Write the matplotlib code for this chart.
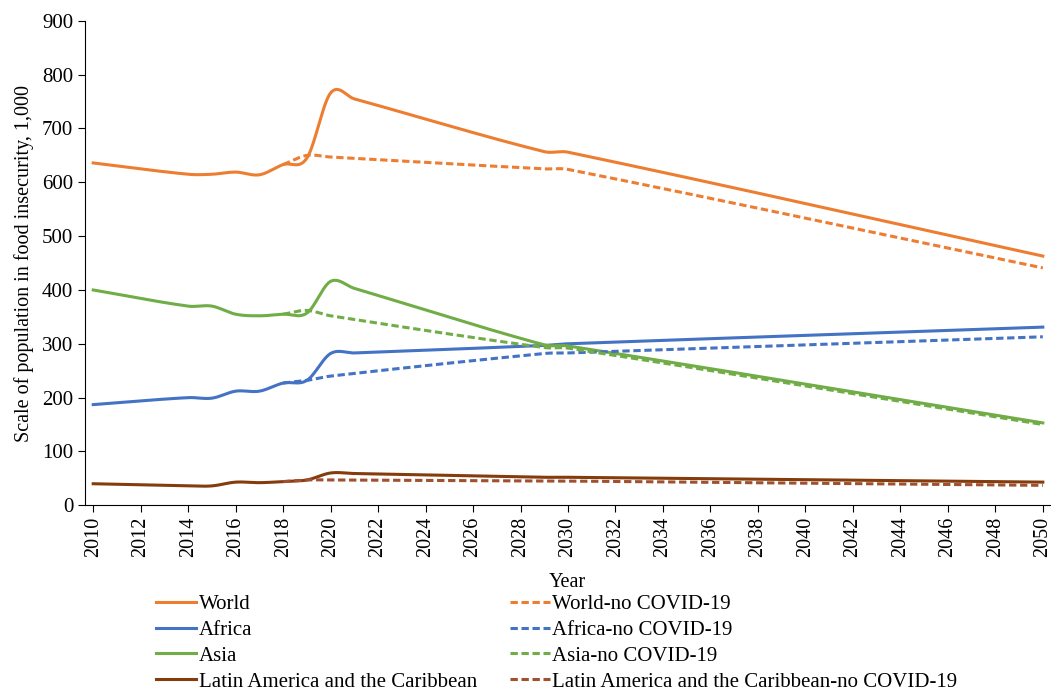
import numpy as np
import matplotlib
matplotlib.use('Agg')
import matplotlib.pyplot as plt

# Datos (miles de personas)
years = [2010, 2014, 2015, 2016, 2017, 2018, 2019, 2020, 2021, 2029, 2030, 2050]
years_nc = [2018, 2019, 2020, 2029, 2030, 2050]

world = [636, 615, 615, 619, 614, 633, 645, 766, 755, 657, 656, 463]
world_nc = [633, 650, 647, 625, 624, 441]
africa = [187, 200, 199, 212, 212, 227, 232, 282, 283, 297, 300, 331]
africa_nc = [227, 232, 240, 282, 283, 313]
asia = [400, 370, 370, 355, 352, 355, 357, 416, 403, 298, 296, 153]
asia_nc = [355, 362, 352, 293, 292, 150]
latam = [40, 36, 36, 43, 42, 44, 47, 60, 59, 52, 52, 43]
latam_nc = [44, 47, 47, 45, 45, 37]


def suavizar(x, y, n=40):
    # curva suavizada (Hermite cúbica), parecida a la línea suavizada de Excel
    x = np.asarray(x, float)
    y = np.asarray(y, float)
    m = np.zeros_like(y)
    for i in range(len(x)):
        a = max(i - 1, 0)
        b = min(i + 1, len(x) - 1)
        m[i] = (y[b] - y[a]) / (x[b] - x[a])
    xs, ys = [], []
    for i in range(len(x) - 1):
        h = x[i + 1] - x[i]
        t = np.linspace(0, 1, n)
        h00 = 2 * t ** 3 - 3 * t ** 2 + 1
        h10 = t ** 3 - 2 * t ** 2 + t
        h01 = -2 * t ** 3 + 3 * t ** 2
        h11 = t ** 3 - t ** 2
        xs.append(x[i] + t * h)
        ys.append(h00 * y[i] + h10 * h * m[i] + h01 * y[i + 1] + h11 * h * m[i + 1])
    return np.concatenate(xs), np.concatenate(ys)


plt.rcParams['font.family'] = 'Liberation Serif'

fig = plt.figure(figsize=(10.51, 6.95), dpi=100)
ax = fig.add_axes([0.081, 0.273, 0.918, 0.697])

series = [
    ('World', years, world, '#ED7D31', '-'),
    ('Africa', years, africa, '#4472C4', '-'),
    ('Asia', years, asia, '#70AD47', '-'),
    ('Latin America and the Caribbean', years, latam, '#843C0C', '-'),
    ('World-no COVID-19', years_nc, world_nc, '#ED7D31', '--'),
    ('Africa-no COVID-19', years_nc, africa_nc, '#4472C4', '--'),
    ('Asia-no COVID-19', years_nc, asia_nc, '#70AD47', '--'),
    ('Latin America and the Caribbean-no COVID-19', years_nc, latam_nc, '#A0502E', '--'),
]

for nombre, xv, yv, color, estilo in series:
    sx, sy = suavizar(xv, yv)
    if estilo == '--':
        ax.plot(sx, sy, color=color, linewidth=2.2, dashes=(2.4, 1.2), label=nombre)
    else:
        ax.plot(sx, sy, color=color, linewidth=2.2, label=nombre)

ax.set_xlim(2009.66, 2050.3)
ax.set_ylim(0, 900)
ax.set_xticks(range(2010, 2051, 2))
ax.set_yticks(range(0, 901, 100))
ax.tick_params(axis='x', labelrotation=90, labelsize=14.5, direction='out', length=5)
ax.tick_params(axis='y', labelsize=15, direction='out', length=5)
ax.spines['top'].set_visible(False)
ax.spines['right'].set_visible(False)
ax.set_xlabel('Year', fontsize=14.5, labelpad=11)
ax.set_ylabel('Scale of population in food insecurity, 1,000', fontsize=14.5, labelpad=6)

# Leyenda en dos columnas debajo del gráfico
fig.legend(ncol=2, loc='lower left', bbox_to_anchor=(0.131, -0.022),
           frameon=False, fontsize=15, handlelength=1.9, handletextpad=0.12,
           columnspacing=1.6, labelspacing=0.3)

fig.savefig('out.png', dpi=100)
